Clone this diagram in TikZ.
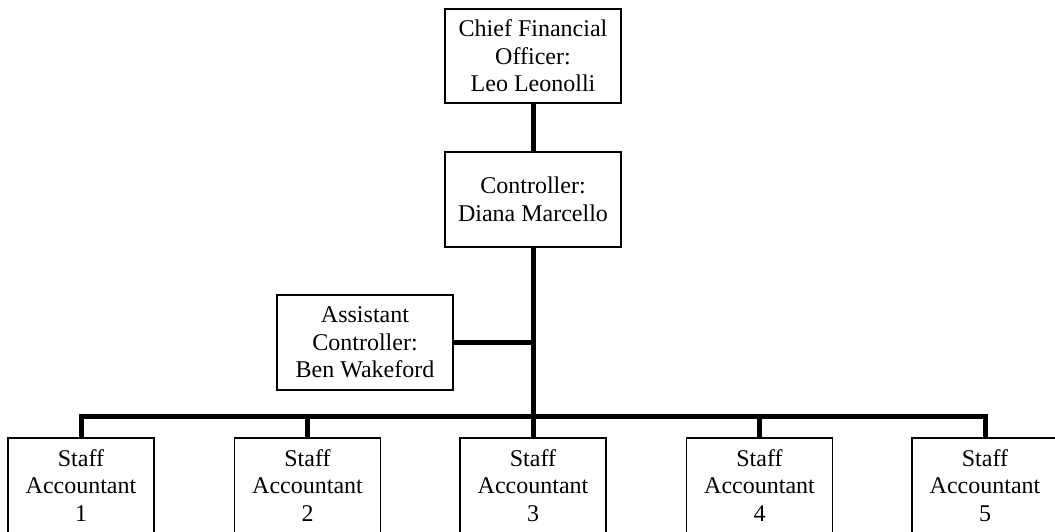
\documentclass[tikz,border=0pt]{standalone}
\usepackage{fontspec}
\setmainfont{Liberation Serif}
\begin{document}
\begin{tikzpicture}[x=1pt,y=-1pt,
  box/.style={draw=black,line width=1.4pt,fill=white,inner sep=0pt,align=center,
    font=\fontsize{24}{27.6}\selectfont},
  big/.style={box,minimum width=176pt,minimum height=95pt},
  staffbox/.style={box,minimum width=146pt,minimum height=95pt},
  conn/.style={line width=5pt,line join=miter}]
\useasboundingbox (0,0) rectangle (1055,531);
\clip (0,0) rectangle (1055,531);
\fill[white] (0,0) rectangle (1055,531);
\node[big,minimum height=94pt] (cfo) at (533,56) {Chief Financial\\Officer:\\Leo Leonolli};
\node[big] (ctrl) at (533,199.5) {Controller:\\Diana Marcello};
\node[big] (asst) at (365,342.5) {Assistant\\Controller:\\Ben Wakeford};
\node[staffbox] (s1) at (81,485.5) {Staff\\Accountant\\1};
\node[staffbox] (s2) at (307.5,485.5) {Staff\\Accountant\\2};
\node[staffbox] (s3) at (533,485.5) {Staff\\Accountant\\3};
\node[staffbox] (s4) at (759.5,485.5) {Staff\\Accountant\\4};
\node[staffbox] (s5) at (985,485.5) {Staff\\Accountant\\5};
\coordinate (bus) at (533,416);
\draw[conn] (cfo.south) -- (ctrl.north);
\draw[conn] (ctrl.south) -- (s3.north);
\draw[conn] (asst.east) -- (asst.east -| ctrl.south);
\draw[conn] (s1.north) -- (s1.north |- bus) -- (s5.north |- bus) -- (s5.north);
\draw[conn] (s2.north) -- (s2.north |- bus);
\draw[conn] (s4.north) -- (s4.north |- bus);
\end{tikzpicture}
\end{document}
